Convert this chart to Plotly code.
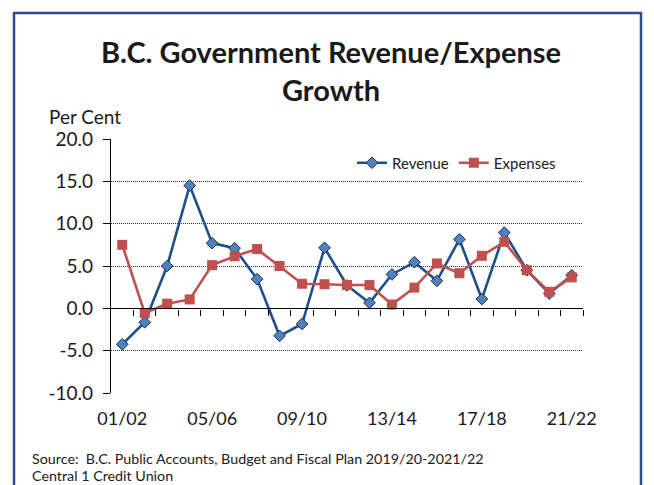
import plotly.graph_objects as go

categories = ["01/02", "02/03", "03/04", "04/05", "05/06", "06/07", "07/08",
              "08/09", "09/10", "10/11", "11/12", "12/13", "13/14", "14/15",
              "15/16", "16/17", "17/18", "18/19", "19/20", "20/21", "21/22"]
revenue = [-4.25, -1.65, 5.0, 14.5, 7.7, 7.1, 3.45, -3.25, -1.85, 7.15, 2.7,
           0.65, 4.0, 5.45, 3.25, 8.15, 1.1, 8.95, 4.5, 1.75, 3.9]
expenses = [7.5, -0.55, 0.55, 1.05, 5.1, 6.15, 7.0, 5.0, 2.9, 2.85, 2.75,
            2.75, 0.45, 2.45, 5.3, 4.15, 6.2, 7.85, 4.5, 1.95, 3.65]
y_ticks = [-10, -5, 0, 5, 10, 15, 20]
y_ticktext = ["-10.0", "-5.0", "0.0", "5.0", "10.0", "15.0", "20.0"]

W, H = 654, 485
L, R, T, B = 111, 71, 139, 92
pw, ph = W - L - R, H - T - B


def px(x):
    return (x - L) / pw


def py(y):
    return (H - B - y) / ph


FONT = "Lato"
TXT = "#1a1a1a"

xi = list(range(len(categories)))

fig = go.Figure()
fig.add_trace(go.Scatter(
    x=xi, y=revenue, name="Revenue", mode="lines+markers",
    line=dict(color="#1F4E8C", width=2.6),
    marker=dict(symbol="diamond", size=9, color="#4F81BD",
                line=dict(color="#1b2f52", width=1)),
))
fig.add_trace(go.Scatter(
    x=xi, y=expenses, name="Expenses", mode="lines+markers",
    line=dict(color="#C0504D", width=2.6),
    marker=dict(symbol="square", size=10, color="#C0504D",
                line=dict(color="#C0504D", width=0)),
))
# invisible trace to carry the zero-line axis
fig.add_trace(go.Scatter(
    x=xi, y=revenue, xaxis="x2", mode="lines", opacity=0,
    showlegend=False, hoverinfo="skip",
))

n = len(categories)
fig.update_layout(
    width=W, height=H,
    margin=dict(l=L, r=R, t=T, b=B),
    paper_bgcolor="white", plot_bgcolor="white",
    font=dict(family=FONT, color=TXT),
    showlegend=True,
    legend=dict(orientation="h", x=px(352), y=py(163), yanchor="middle",
                xanchor="left", font=dict(size=15, family=FONT, color=TXT),
                bgcolor="rgba(0,0,0,0)", itemwidth=30, tracegroupgap=0),
    xaxis=dict(
        range=[-0.5, n - 0.5],
        tickvals=xi[::4], ticktext=categories[::4],
        showline=False, showgrid=False, zeroline=False, ticks="",
        tickfont=dict(size=18, family=FONT, color=TXT),
        ticklabelstandoff=13,
    ),
    xaxis2=dict(
        overlaying="x", matches="x", anchor="free",
        position=(0 - y_ticks[0]) / (y_ticks[-1] - y_ticks[0]),
        range=[-0.5, n - 0.5],
        tickvals=[i + 0.5 for i in xi], showticklabels=False,
        showline=True, linecolor="#000000", linewidth=1.4,
        ticks="outside", ticklen=6, tickcolor="#000000", tickwidth=1.3,
        showgrid=False, zeroline=False,
    ),
    yaxis=dict(
        range=[y_ticks[0], y_ticks[-1]],
        tickvals=y_ticks, ticktext=y_ticktext,
        showline=True, linecolor="#000000", linewidth=1.4,
        ticks="outside", ticklen=7, tickcolor="#000000", tickwidth=1.3,
        showgrid=True, gridcolor="#333333", gridwidth=1, griddash="1px,1px",
        zeroline=False,
        tickfont=dict(size=19, family=FONT, color=TXT),
        ticklabelstandoff=6,
    ),
    annotations=[
        dict(text="<b>B.C. Government Revenue/Expense<br>Growth</b>",
             xref="paper", yref="paper", x=px(331), y=py(70),
             xanchor="center", yanchor="middle", showarrow=False,
             font=dict(size=29, family=FONT, color=TXT)),
        dict(text="Per Cent", xref="paper", yref="paper",
             x=px(47), y=py(117), xanchor="left", yanchor="middle",
             showarrow=False, font=dict(size=19, family=FONT, color=TXT)),
        dict(text="Source:  B.C. Public Accounts, Budget and Fiscal Plan 2019/20-2021/22",
             xref="paper", yref="paper", x=px(30), y=py(458),
             xanchor="left", yanchor="middle", showarrow=False,
             font=dict(size=14.3, family=FONT, color=TXT)),
        dict(text="Central 1 Credit Union",
             xref="paper", yref="paper", x=px(30), y=py(476),
             xanchor="left", yanchor="middle", showarrow=False,
             font=dict(size=14.3, family=FONT, color=TXT)),
    ],
    shapes=[
        dict(type="rect", xref="paper", yref="paper",
             x0=px(14), x1=px(641), y0=py(500), y1=py(13),
             line=dict(color="#2E4D8A", width=2.5), fillcolor="rgba(0,0,0,0)",
             layer="below"),
    ],
)

fig.write_html("out.html")
